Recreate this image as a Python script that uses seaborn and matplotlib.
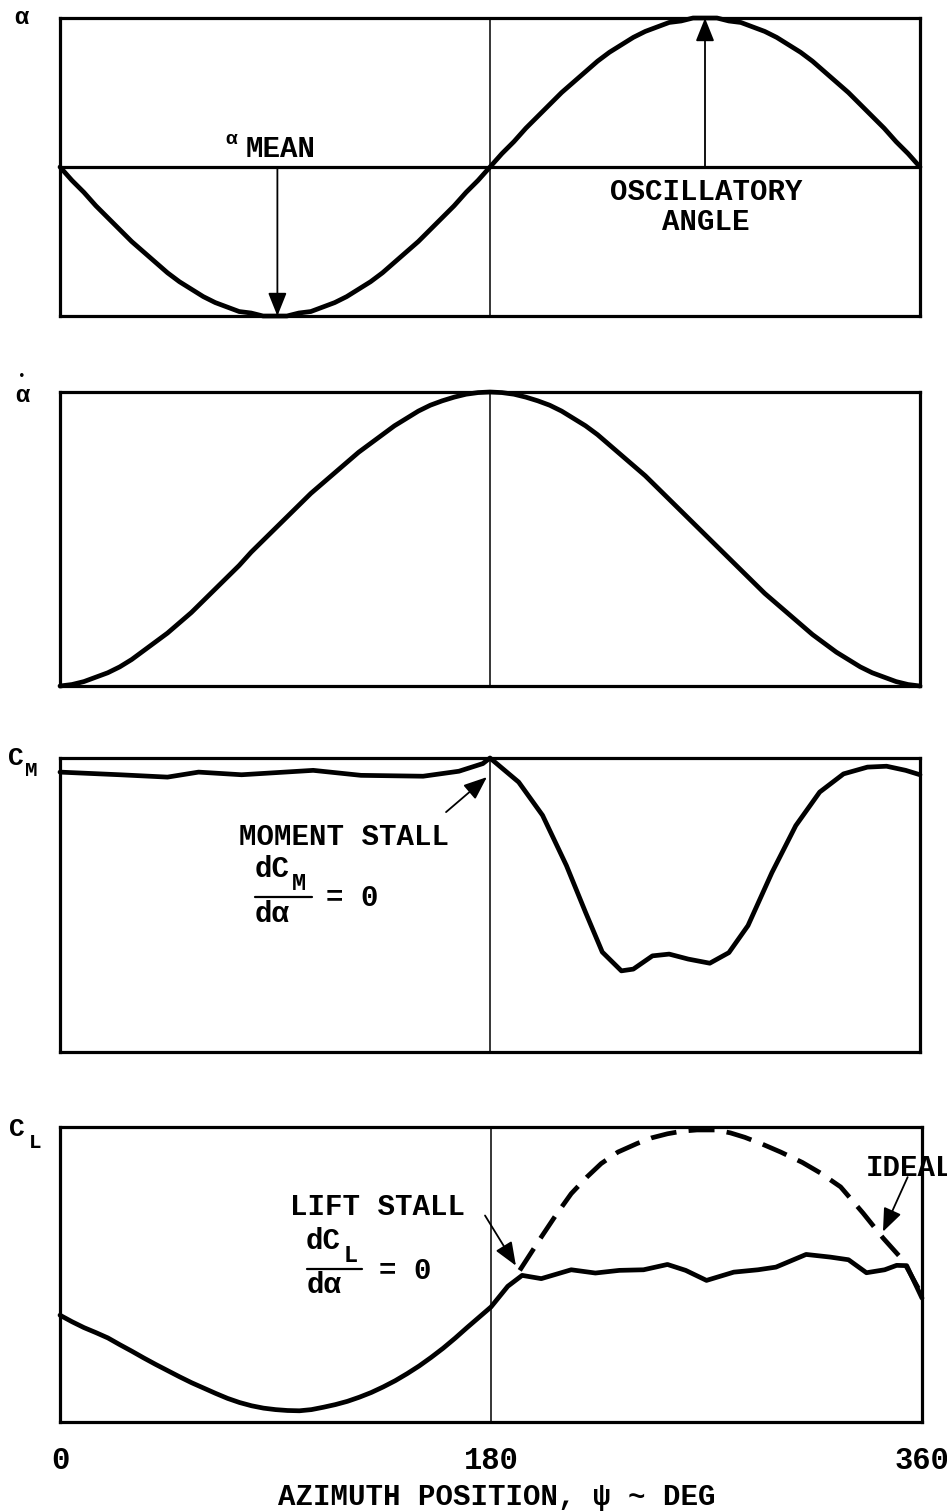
import matplotlib
matplotlib.use("Agg")
import matplotlib.pyplot as plt
import numpy as np
import pandas as pd
import seaborn as sns

# ---------------- data ----------------
psi_5deg = list(range(0, 361, 5))

# angle of attack alpha (normalised, mean = 0)
psi_alpha = psi_5deg
alpha = [0, -0.09, -0.17, -0.26, -0.34, -0.42, -0.5, -0.57, -0.64, -0.71, -0.77, -0.82, -0.87,
         -0.91, -0.94, -0.97, -0.98, -1.0, -1.0, -1.0, -0.98, -0.97, -0.94, -0.91, -0.87, -0.82,
         -0.77, -0.71, -0.64, -0.57, -0.5, -0.42, -0.34, -0.26, -0.17, -0.09, 0,
         0.09, 0.17, 0.26, 0.34, 0.42, 0.5, 0.57, 0.64, 0.71, 0.77, 0.82, 0.87, 0.91, 0.94,
         0.97, 0.98, 1.0, 1.0, 1.0, 0.98, 0.97, 0.94, 0.91, 0.87, 0.82, 0.77, 0.71, 0.64, 0.57,
         0.5, 0.42, 0.34, 0.26, 0.17, 0.09, 0]

# pitch rate alpha-dot
psi_alpha_dot = psi_5deg
alpha_dot = [-1.0, -0.99, -0.97, -0.94, -0.91, -0.87, -0.82, -0.76, -0.7, -0.64, -0.57, -0.5,
             -0.42, -0.34, -0.26, -0.18, -0.09, -0.01, 0.07, 0.15, 0.23, 0.31, 0.38, 0.45, 0.52,
             0.59, 0.65, 0.71, 0.77, 0.82, 0.87, 0.91, 0.94, 0.965, 0.985, 0.996, 1.0,
             0.996, 0.985, 0.965, 0.94, 0.91, 0.87, 0.82, 0.77, 0.71, 0.64, 0.57, 0.5, 0.43,
             0.35, 0.27, 0.19, 0.11, 0.03, -0.05, -0.13, -0.21, -0.29, -0.37, -0.44, -0.51,
             -0.58, -0.65, -0.71, -0.77, -0.82, -0.87, -0.91, -0.94, -0.97, -0.99, -1.0]

# pitching moment coefficient C_M
psi_cm = [0, 25, 45, 58, 76, 106, 126, 152, 167, 177, 180, 192, 202, 212, 220, 227, 235, 240,
          248, 255, 263, 272, 280, 288, 298, 308, 318, 328, 338, 346, 354, 360]
cm = [0.952, 0.943, 0.935, 0.952, 0.943, 0.958, 0.941, 0.938, 0.955, 0.981, 1.0, 0.918, 0.805,
      0.634, 0.475, 0.34, 0.276, 0.282, 0.327, 0.333, 0.316, 0.302, 0.338, 0.43, 0.61, 0.77,
      0.884, 0.946, 0.969, 0.972, 0.958, 0.943]

# lift coefficient C_L (measured, with stall)
psi_cl = list(range(0, 181, 5)) + [187, 193, 201, 213.5, 223.6, 233.6, 243.7, 253.7, 261.3,
                                    270, 281.4, 291.5, 299, 311.6, 321.7, 329.3, 336.8, 344.4,
                                    349.4, 353.6, 360]
cl = [0.362, 0.34, 0.32, 0.303, 0.285, 0.262, 0.24, 0.217, 0.195, 0.174, 0.153, 0.133, 0.115,
      0.097, 0.08, 0.066, 0.055, 0.047, 0.042, 0.039, 0.038, 0.042, 0.05, 0.059, 0.07, 0.084,
      0.1, 0.119, 0.14, 0.164, 0.19, 0.219, 0.25, 0.284, 0.32, 0.355, 0.39,
      0.46, 0.497, 0.486, 0.516, 0.505, 0.514, 0.516, 0.534, 0.514, 0.48, 0.508, 0.516, 0.525,
      0.568, 0.559, 0.55, 0.506, 0.516, 0.531, 0.53, 0.42]

# ideal (unstalled) lift coefficient
psi_ideal = [192, 201, 207, 213.5, 220, 226, 233, 241, 247, 253.7, 260, 266, 274, 280, 286, 293,
             301, 310, 317.6, 326, 335.4, 343.7, 352, 360]
cl_ideal = [0.514, 0.627, 0.7, 0.774, 0.83, 0.876, 0.915, 0.944, 0.963, 0.977, 0.986, 0.99,
            0.99, 0.98, 0.965, 0.943, 0.915, 0.88, 0.844, 0.797, 0.708, 0.624, 0.549, 0.43]

x_ticks = [0, 180, 360]
x_tick_labels = ["0", "180", "360"]
x_title = "AZIMUTH POSITION, ψ ~ DEG"

# ---------------- style ----------------
sns.set_theme(style="white")
MONO = ["Liberation Mono", "DejaVu Sans Mono"]
plt.rcParams["font.family"] = MONO
plt.rcParams["font.weight"] = "bold"
plt.rcParams["text.color"] = "black"
plt.rcParams["axes.labelcolor"] = "black"
plt.rcParams["xtick.color"] = "black"

W, H = 947, 1512
fig = plt.figure(figsize=(W / 100, H / 100), dpi=100)
fig.patch.set_facecolor("white")


def rect(left, top, right, bottom):
    return [left / W, 1 - bottom / H, (right - left) / W, (bottom - top) / H]


def fpos(x, y):
    return x / W, 1 - y / H


CURVE_LW = 3.4
BORDER_LW = 2.3

ax1 = fig.add_axes(rect(60, 18, 920, 316))
ax2 = fig.add_axes(rect(60, 392, 920, 686))
ax3 = fig.add_axes(rect(60, 758, 920, 1052))
ax4 = fig.add_axes(rect(60, 1127, 922, 1422))

for ax in (ax1, ax2, ax3, ax4):
    ax.set_xlim(0, 360)
    for s in ax.spines.values():
        s.set_visible(True)
        s.set_linewidth(BORDER_LW)
        s.set_color("black")
    ax.set_facecolor("white")
    ax.axvline(180, color="black", lw=1.1, zorder=1)
    ax.set_yticks([])
    ax.set_xticks([])

ax1.set_ylim(-1, 1)
ax2.set_ylim(-1, 1)
ax3.set_ylim(0, 1)
ax4.set_ylim(0, 1)

arrow = dict(arrowstyle="-|>,head_length=0.55,head_width=0.22", color="black", lw=1.3,
             mutation_scale=26, shrinkA=0, shrinkB=0)

# ---- panel 1 : alpha ----
ax1.axhline(0, color="black", lw=BORDER_LW, zorder=1)
sns.lineplot(x=psi_alpha, y=alpha, ax=ax1, color="black", lw=CURVE_LW, clip_on=False, zorder=3)
ax1.annotate("", xy=(91, -1), xytext=(91, 0), arrowprops=arrow)
ax1.annotate("", xy=(270, 1), xytext=(270, 0), arrowprops=arrow)

fig.text(*fpos(231, 140), "α", fontsize=14, ha="center", va="center")
fig.text(*fpos(281, 149), "MEAN", fontsize=21, ha="center", va="center")
fig.text(*fpos(706, 192), "OSCILLATORY", fontsize=21, ha="center", va="center")
fig.text(*fpos(706, 222), "ANGLE", fontsize=21, ha="center", va="center")
fig.text(*fpos(21, 17), "α", fontsize=17, ha="center", va="center")

# ---- panel 2 : alpha dot ----
sns.lineplot(x=psi_alpha_dot, y=alpha_dot, ax=ax2, color="black", lw=CURVE_LW, clip_on=False,
             zorder=3)
fig.text(*fpos(22, 396), "α", fontsize=17, ha="center", va="center")
fig.text(*fpos(22, 376), "•", fontsize=9, ha="center", va="center")

# ---- panel 3 : C_M ----
sns.lineplot(x=psi_cm, y=cm, ax=ax3, color="black", lw=CURVE_LW, clip_on=False, zorder=3)
ax3.annotate("", xy=(178.7, 0.935), xytext=(161.6, 0.816), arrowprops=arrow)
fig.text(*fpos(16, 758), "C", fontsize=19, ha="center", va="center")
fig.text(*fpos(31, 771), "M", fontsize=15, ha="center", va="center")

fig.text(*fpos(344, 837), "MOMENT STALL", fontsize=21, ha="center", va="center")
fig.text(*fpos(272, 869), "dC", fontsize=21, ha="center", va="center")
fig.text(*fpos(299, 884), "M", fontsize=17, ha="center", va="center")
fig.add_artist(plt.Line2D([255 / W, 312 / W], [1 - 897 / H, 1 - 897 / H], color="black", lw=1.6))
fig.text(*fpos(272, 914), "dα", fontsize=21, ha="center", va="center")
fig.text(*fpos(352, 898), "= 0", fontsize=21, ha="center", va="center")

# ---- panel 4 : C_L ----
sns.lineplot(x=psi_ideal, y=cl_ideal, ax=ax4, color="black", lw=CURVE_LW, clip_on=False,
             zorder=3, linestyle=(0, (5.5, 2.6)))
sns.lineplot(x=psi_cl, y=cl, ax=ax4, color="black", lw=CURVE_LW, clip_on=False, zorder=3)
ax4.annotate("", xy=(190.4, 0.53), xytext=(177.5, 0.70), arrowprops=arrow)
ax4.annotate("", xy=(343.7, 0.645), xytext=(354, 0.83), arrowprops=arrow)

fig.text(*fpos(17, 1129), "C", fontsize=19, ha="center", va="center")
fig.text(*fpos(35, 1142), "L", fontsize=15, ha="center", va="center")

fig.text(*fpos(378, 1207), "LIFT STALL", fontsize=21, ha="center", va="center")
fig.text(*fpos(323, 1241), "dC", fontsize=21, ha="center", va="center")
fig.text(*fpos(351, 1255), "L", fontsize=17, ha="center", va="center")
fig.add_artist(plt.Line2D([307 / W, 362 / W], [1 - 1269 / H, 1 - 1269 / H], color="black", lw=1.6))
fig.text(*fpos(324, 1285), "dα", fontsize=21, ha="center", va="center")
fig.text(*fpos(405, 1271), "= 0", fontsize=21, ha="center", va="center")
fig.text(*fpos(866, 1168), "IDEAL", fontsize=21, ha="left", va="center")

ax4.set_xticks(x_ticks)
ax4.set_xticklabels(x_tick_labels, fontsize=22)
ax4.tick_params(axis="x", length=0, pad=17, colors="black")
ax4.set_xlabel("")
fig.text(*fpos(497, 1497), x_title, fontsize=21, ha="center", va="center")

fig.savefig("out.png", dpi=100, facecolor="white")
